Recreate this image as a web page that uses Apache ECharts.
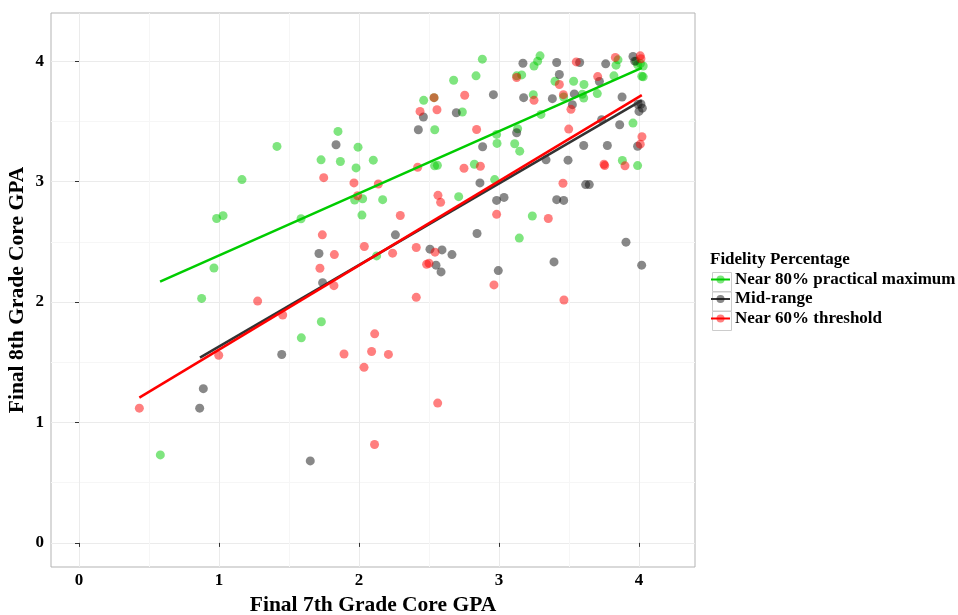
<!DOCTYPE html>
<html>
<head>
<meta charset="utf-8">
<script src="https://cdn.jsdelivr.net/npm/echarts@6/dist/echarts.min.js"></script>
<style>html,body{margin:0;padding:0;background:#fff}#chart{width:958px;height:615px}</style>
</head>
<body>
<div id="chart"></div>
<script>
const categories = ['Near 80% practical maximum', 'Mid-range', 'Near 60% threshold'];
const xTicks = [0, 1, 2, 3, 4];
const yTicks = [0, 1, 2, 3, 4];
const minorTicks = [0.5, 1.5, 2.5, 3.5];

const greenPts = [
  [0.581,0.731],[0.876,2.03],[0.964,2.283],[0.983,2.694],[1.029,2.717],[1.164,3.017],[1.414,3.292],
  [1.586,2.692],[1.588,1.703],[1.731,1.836],[1.729,3.181],[1.85,3.417],[1.867,3.167],[1.979,3.114],
  [1.993,3.286],[1.969,2.847],[2.026,2.858],[2.021,2.722],[2.102,3.178],[2.126,2.383],[2.169,2.85],
  [2.462,3.675],[2.536,3.697],[2.541,3.431],[2.54,3.131],[2.56,3.135],[2.676,3.842],[2.712,2.875],
  [2.738,3.578],[2.824,3.144],[2.836,3.878],[2.881,4.017],[2.969,3.017],[2.983,3.392],[2.986,3.317],
  [3.112,3.314],[3.126,3.878],[3.133,3.439],[3.148,3.253],[3.145,2.531],[3.162,3.886],[3.238,2.714],
  [3.245,3.722],[3.25,3.96],[3.276,4.0],[3.293,4.044],[3.3,3.558],[3.4,3.833],[3.462,3.703],
  [3.533,3.833],[3.595,3.725],[3.605,3.694],[3.607,3.806],[3.702,3.731],[3.821,3.878],[3.836,3.967],
  [3.85,4.011],[3.881,3.175],[3.957,3.486],[3.99,3.133],[3.98,4.0],[3.99,3.97],[4.01,3.98],
  [4.03,3.96],[4.03,3.87],[4.02,3.875]
];
const greyPts = [
  [0.862,1.119],[0.888,1.281],[1.448,1.564],[1.652,0.681],[1.714,2.403],[1.74,2.161],[1.836,3.306],
  [2.26,2.558],[2.424,3.431],[2.46,3.536],[2.507,2.439],[2.55,2.306],[2.586,2.25],[2.593,2.433],
  [2.664,2.394],[2.695,3.572],[2.843,2.569],[2.864,2.989],[2.883,3.289],[2.96,3.722],[2.983,2.844],
  [2.995,2.261],[3.036,2.869],[3.126,3.406],[3.171,3.983],[3.176,3.697],[3.336,3.181],[3.381,3.689],
  [3.393,2.333],[3.412,3.989],[3.412,2.85],[3.431,3.889],[3.462,2.844],[3.493,3.178],[3.524,3.639],
  [3.538,3.728],[3.576,3.989],[3.605,3.3],[3.619,2.975],[3.645,2.975],[3.717,3.831],[3.733,3.514],
  [3.762,3.978],[3.774,3.3],[3.862,3.472],[3.879,3.703],[3.907,2.497],[3.957,4.039],[3.97,4.0],
  [3.99,3.294],[3.993,3.642],[4.014,3.644],[4.024,3.61],[4.0,3.583],[4.019,2.306]
];
const redPts = [
  [0.431,1.119],[0.998,1.558],[1.276,2.008],[1.455,1.892],[1.721,2.281],[1.738,2.558],[1.748,3.033],
  [1.821,2.136],[1.824,2.394],[1.893,1.569],[1.964,2.989],[1.99,2.883],[2.036,1.458],[2.038,2.461],
  [2.09,1.589],[2.111,0.817],[2.112,1.736],[2.138,2.98],[2.21,1.565],[2.24,2.406],[2.295,2.719],
  [2.409,2.453],[2.409,2.039],[2.419,3.119],[2.436,3.583],[2.483,2.314],[2.5,2.322],[2.536,3.697],
  [2.543,2.414],[2.557,3.597],[2.562,1.161],[2.564,2.886],[2.583,2.828],[2.75,3.111],[2.755,3.717],
  [2.84,3.433],[2.867,3.128],[2.964,2.142],[2.983,2.728],[3.126,3.864],[3.25,3.675],[3.352,2.694],
  [3.431,3.806],[3.457,2.986],[3.46,3.722],[3.464,2.017],[3.498,3.436],[3.514,3.6],[3.552,3.994],
  [3.705,3.872],[3.75,3.144],[3.755,3.133],[3.831,4.031],[3.9,3.131],[4.009,3.311],[4.021,3.372],
  [4.009,4.044],[4.014,4.02]
];
const fitGreen = [[0.579,2.169],[4.02,3.944]];
const fitGrey = [[0.864,1.539],[4.02,3.675]];
const fitRed = [[0.431,1.206],[4.02,3.718]];

const colors = ['#00CC00', '#111111', '#FF0000'];
const lineColors = ['#00CC00', '#333333', '#FF0000'];
const FONT = 'Liberation Serif';

const chart = echarts.init(document.getElementById('chart'), null, {renderer: 'canvas'});

const pointSets = [greenPts, greyPts, redPts];
const fitSets = [fitGreen, fitGrey, fitRed];

const series = [];
categories.forEach((name, i) => {
  series.push({
    name: name, type: 'line', data: fitSets[i], symbol: 'none', z: 4,
    lineStyle: {color: lineColors[i], width: 2.5},
    itemStyle: {color: colors[i], opacity: 0.5},
    animation: false, silent: true
  });
});
categories.forEach((name, i) => {
  series.push({
    name: name, type: 'scatter', data: pointSets[i], symbol: 'circle', symbolSize: 9, z: 2,
    itemStyle: {color: colors[i], opacity: 0.5},
    animation: false, silent: true
  });
});

const axisFontLabel = {fontFamily: FONT, fontWeight: 'bold', fontSize: 17, color: '#000'};

const option = {
  backgroundColor: '#fff',
  animation: false,
  grid: {left: 51, right: 263, top: 13, bottom: 48, show: true, borderColor: '#b3b3b3', borderWidth: 1, outerBoundsMode: 'none'},
  title: {text: 'Fidelity Percentage', left: 710, top: 251, padding: 0, textStyle: {fontFamily: FONT, fontWeight: 'bold', fontSize: 17, color: '#000'}},
  legend: {
    data: categories, orient: 'vertical', left: 710, top: 270, padding: 0,
    itemWidth: 19, itemHeight: 10, itemGap: 0.5,
    textStyle: {fontFamily: FONT, fontWeight: 'bold', fontSize: 17, color: '#000', lineHeight: 19},
    selectedMode: false
  },
  graphic: [
    {type: 'rect', left: 710, top: 270, shape: {width: 19, height: 19}, style: {fill: 'none', stroke: '#cccccc', lineWidth: 1}, z: -1},
    {type: 'rect', left: 710, top: 289.5, shape: {width: 19, height: 19}, style: {fill: 'none', stroke: '#cccccc', lineWidth: 1}, z: -1},
    {type: 'rect', left: 710, top: 309, shape: {width: 19, height: 19}, style: {fill: 'none', stroke: '#cccccc', lineWidth: 1}, z: -1}
  ],
  xAxis: [
    {
      type: 'value', min: -0.2, max: 4.4, position: 'bottom',
      name: 'Final 7th Grade Core GPA', nameLocation: 'middle', nameGap: 27, nameMoveOverlap: false,
      nameTextStyle: {fontFamily: FONT, fontWeight: 'bold', fontSize: 21.5, color: '#000'},
      axisLine: {show: false},
      axisTick: {show: true, length: 4, inside: false, customValues: xTicks, lineStyle: {color: '#333'}},
      axisLabel: Object.assign({customValues: xTicks, margin: 5}, axisFontLabel),
      splitLine: {show: true, lineStyle: {color: '#ebebeb', width: 1}}
    },
    {
      type: 'value', min: -0.2, max: 4.4, position: 'bottom',
      axisLine: {show: false}, axisTick: {show: false, customValues: minorTicks},
      axisLabel: {show: false, customValues: minorTicks},
      splitLine: {show: true, lineStyle: {color: '#f6f6f6', width: 1}}
    }
  ],
  yAxis: [
    {
      type: 'value', min: -0.2, max: 4.4, position: 'left',
      name: 'Final 8th Grade Core GPA', nameLocation: 'middle', nameGap: 23, nameRotate: 90, nameMoveOverlap: false,
      nameTextStyle: {fontFamily: FONT, fontWeight: 'bold', fontSize: 21.5, color: '#000'},
      axisLine: {show: false},
      axisTick: {show: true, length: 4, inside: false, customValues: yTicks, lineStyle: {color: '#333'}},
      axisLabel: Object.assign({customValues: yTicks, margin: 7}, axisFontLabel),
      splitLine: {show: true, lineStyle: {color: '#ebebeb', width: 1}}
    },
    {
      type: 'value', min: -0.2, max: 4.4, position: 'left',
      axisLine: {show: false}, axisTick: {show: false, customValues: minorTicks},
      axisLabel: {show: false, customValues: minorTicks},
      splitLine: {show: true, lineStyle: {color: '#f6f6f6', width: 1}}
    }
  ],
  series: series
};
chart.setOption(option);
</script>
</body>
</html>
